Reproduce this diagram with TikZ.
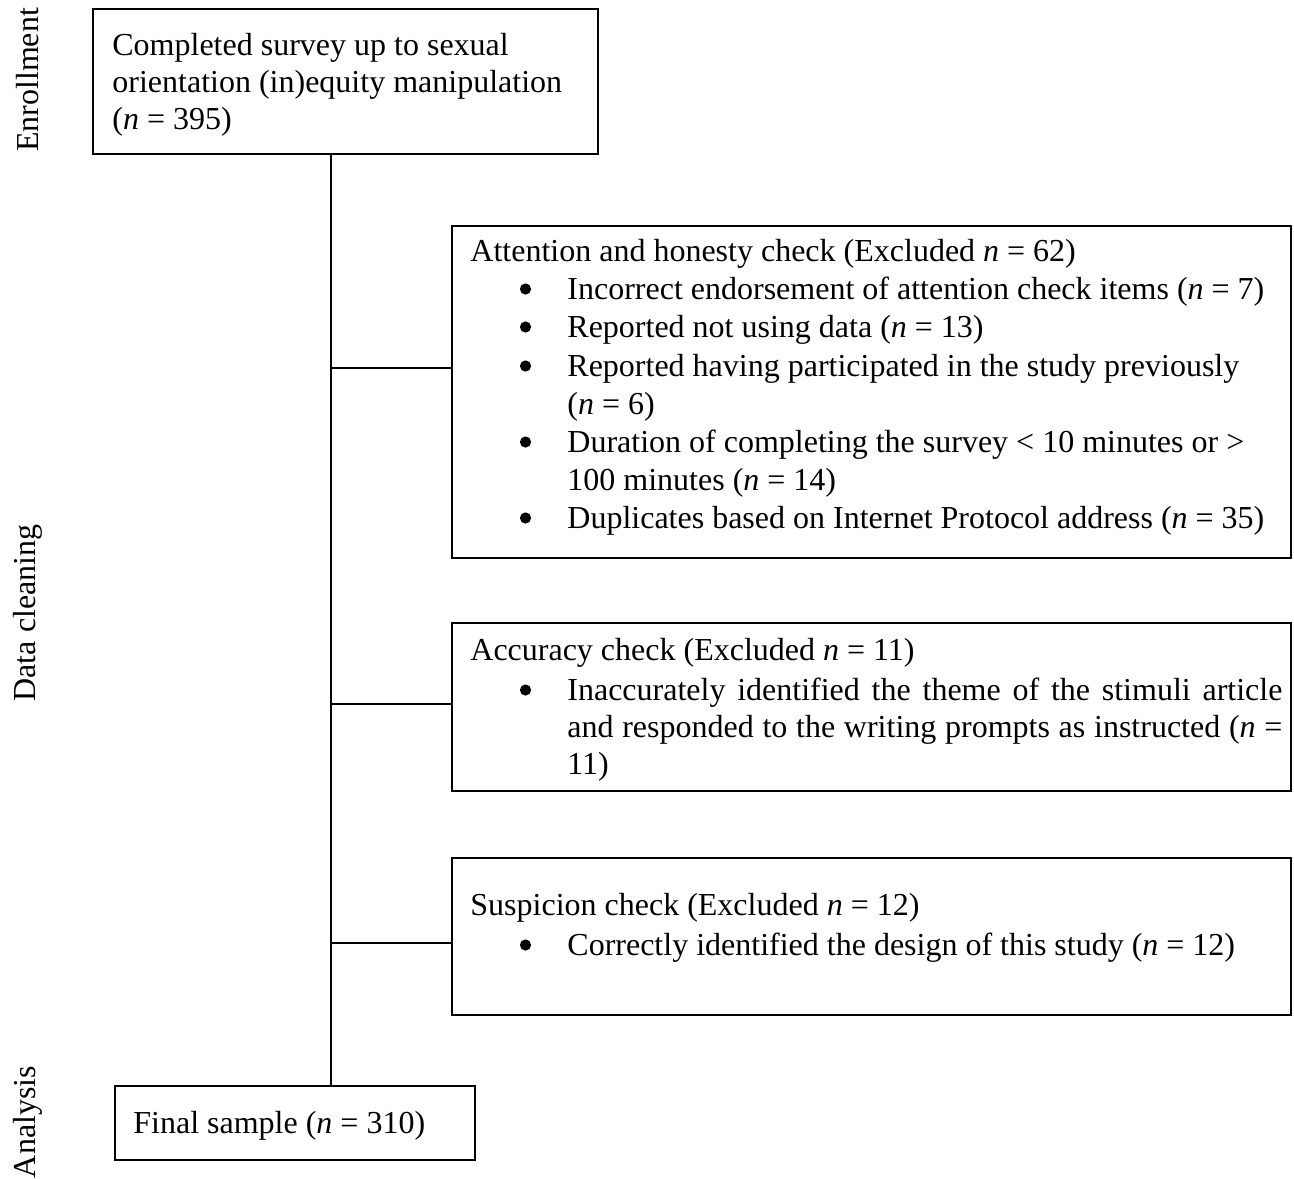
\documentclass[tikz,border=0pt]{standalone}
\usepackage{fontspec}
\setmainfont{Liberation Serif}
\newcommand{\nn}{\textit{n}}
\begin{document}
\begin{tikzpicture}[x=0.5pt,y=-0.5pt,
  font=\fontsize{16}{19}\selectfont,
  box/.style={draw, line width=1pt, inner sep=0pt, anchor=north west},
  txt/.style={inner sep=0pt, anchor=base west},
  bul/.style={circle, fill, draw=none, inner sep=0pt, minimum size=5.6pt},
  lab/.style={rotate=90, inner sep=0pt, anchor=center},
  link/.style={line width=0.6pt}]
\useasboundingbox (0,0) rectangle (1294,1178);

% side labels
\node[lab] (lenr) at (28,80) {Enrollment};
\node[lab] (ldat) at (28,613) {Data cleaning};
\node[lab] (lana) at (28,1122) {Analysis};

% boxes
\node[box, minimum width=252.5pt, minimum height=72.5pt] (b1) at (92,8) {};
\node[box, minimum width=419.5pt, minimum height=166pt] (b2) at (451,225) {};
\node[box, minimum width=419.5pt, minimum height=84pt] (b3) at (451,622) {};
\node[box, minimum width=419.5pt, minimum height=78.5pt] (b4) at (451,857) {};
\node[box, minimum width=180pt, minimum height=37pt] (b5) at (114,1085) {};

% box 1 text
\node[txt] (t11) at (112,55) {Completed survey up to sexual};
\node[txt] (t12) at (112,92) {orientation (in)equity manipulation};
\node[txt] (t13) at (112,129) {(\nn{} = 395)};

% box 2 text
\node[txt] (t20) at (470,261) {Attention and honesty check (Excluded \nn{} = 62)};
\node[bul] (u21) at (525.5,289) {};
\node[txt] (t21) at (567,299) {Incorrect endorsement of attention check items (\nn{} = 7)};
\node[bul] (u22) at (525.5,327) {};
\node[txt] (t22) at (567,337) {Reported not using data (\nn{} = 13)};
\node[bul] (u23) at (525.5,366) {};
\node[txt] (t23) at (567,376) {Reported having participated in the study previously};
\node[txt] (t24) at (567,414) {(\nn{} = 6)};
\node[bul] (u25) at (525.5,442) {};
\node[txt] (t25) at (567,452) {Duration of completing the survey < 10 minutes or >};
\node[txt] (t26) at (567,490) {100 minutes (\nn{} = 14)};
\node[bul] (u27) at (525.5,518) {};
\node[txt] (t27) at (567,528) {Duplicates based on Internet Protocol address (\nn{} = 35)};

% box 3 text
\node[txt] (t30) at (470,660) {Accuracy check (Excluded \nn{} = 11)};
\node[bul] (u31) at (525.5,690) {};
\node[txt] (t31) at (567,700) {\makebox[357.5pt][s]{Inaccurately identified the theme of the stimuli article}};
\node[txt] (t32) at (567,737) {\makebox[357.5pt][s]{and responded to the writing prompts as instructed (\nn{} =}};
\node[txt] (t33) at (567,774) {11)};

% box 4 text
\node[txt] (t40) at (470,915) {Suspicion check (Excluded \nn{} = 12)};
\node[bul] (u41) at (525.5,945) {};
\node[txt] (t41) at (567,955) {Correctly identified the design of this study (\nn{} = 12)};

% box 5 text
\node[txt] (t50) at (133,1133) {Final sample (\nn{} = 310)};

% connectors
\coordinate (trunk) at (331,0);
\coordinate (j2) at (331,368);
\coordinate (j3) at (331,704);
\coordinate (j4) at (331,943);
\draw[link] (b1.south -| trunk) -- (b5.north -| trunk);
\draw[link] (j2) -- (j2 -| b2.west);
\draw[link] (j3) -- (j3 -| b3.west);
\draw[link] (j4) -- (j4 -| b4.west);
\end{tikzpicture}
\end{document}
